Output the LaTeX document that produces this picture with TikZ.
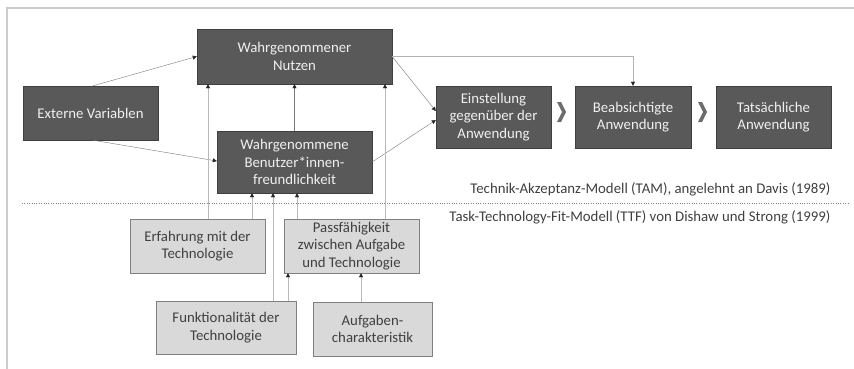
\documentclass[tikz,border=0pt]{standalone}
\usepackage{fontspec}
\setmainfont{Carlito}
\usetikzlibrary{arrows.meta}
\definecolor{boxdark}{HTML}{595959}
\definecolor{boxline}{HTML}{3F3F3F}
\definecolor{boxlight}{HTML}{D9D9D9}
\definecolor{txtdark}{HTML}{404040}
\tikzstyle{dark} = [rectangle, inner sep=0, text centered, align=center, draw=boxline, fill=boxdark, text=white!94!black]
\tikzstyle{light} = [rectangle, inner sep=0, text centered, align=center, draw=gray, fill=boxlight, text=txtdark]
\tikzstyle{arrow} = [draw=gray!95!black, -{Triangle[length=4pt,width=4pt,color=black!85]}]
\tikzstyle{arrowl} = [draw=gray!55, -{Triangle[length=4pt,width=4pt,color=black!85]}]
\tikzstyle{chev} = [fill=gray!85!black]

\begin{document}
\begin{tikzpicture}[x=1pt,y=-1pt,font=\fontsize{14.8}{17.4}\selectfont]
\useasboundingbox (0,0) rectangle (854,369);
\draw[gray!40,line width=1.2pt] (7,369)--(7,8)--(854,8);
\draw[gray,dotted] (22,203)--(850,203);

% TAM
\node[dark,minimum width=195,minimum height=55] (nutzen) at (294.5,56.5) {Wahrgenommener\\Nutzen};
\node[dark,minimum width=135,minimum height=54] (extern) at (90.5,113) {Externe Variablen};
\node[dark,minimum width=155,minimum height=62] (benutzer) at (294.5,162) {Wahrgenommene\\Benutzer*innen-\\freundlichkeit};
\node[dark,minimum width=115,minimum height=62] (einst) at (493.5,117) {Einstellung\\gegenüber der\\Anwendung};
\node[dark,minimum width=116,minimum height=62] (beabs) at (633,117) {Beabsichtigte\\Anwendung};
\node[dark,minimum width=115,minimum height=62] (tats) at (773.5,117) {Tatsächliche\\Anwendung};
\fill[chev] (557,102)--(561,102)--(566,112)--(561,122)--(557,122)--(562,112)--cycle;
\fill[chev] (698,102)--(702,102)--(707,112)--(702,122)--(698,122)--(703,112)--cycle;

% TTF
\node[light,minimum width=135,minimum height=54] (erf) at (197.5,246) {Erfahrung mit der\\Technologie};
\node[light,minimum width=135,minimum height=54] (pass) at (351.5,246) {Passfähigkeit\\zwischen Aufgabe\\und Technologie};
\node[light,minimum width=140,minimum height=53] (funk) at (226,327.5) {Funktionalität der\\Technologie};
\node[light,minimum width=119,minimum height=54] (aufg) at (372.5,329) {Aufgaben-\\charakteristik};

\node[text=txtdark,anchor=east] (tam) at (834,189) {Technik-Akzeptanz-Modell (TAM), angelehnt an Davis (1989)};
\node[text=txtdark,anchor=east] (ttf) at (834,217) {Task-Technology-Fit-Modell (TTF) von Dishaw und Strong (1999)};

\draw[arrow] ([xshift=2.5pt]extern.north) -- (nutzen.west);
\draw[arrow] ([xshift=2.5pt]extern.south) -- ([yshift=1pt]benutzer.west);
\draw[arrow] (benutzer.north) -- (nutzen.south);
\draw[arrow] (nutzen.east) -- ([yshift=6pt]einst.west);
\draw[arrow] (benutzer.east) -- ([yshift=-3pt]einst.west);
\draw[arrow,draw=gray!60] (nutzen.east) -| (beabs.north);

\coordinate (e1) at ([xshift=10.5pt]erf.north);
\coordinate (e2) at ([xshift=54.5pt]erf.north);
\coordinate (f1) at ([xshift=47pt]funk.north);
\coordinate (f2) at ([xshift=62pt]funk.north);
\coordinate (p1) at ([xshift=-54.5pt]pass.north);
\coordinate (p2) at ([xshift=33.5pt]pass.north);
\coordinate (a1) at ([xshift=-11.5pt]aufg.north);
\draw[arrowl] (e1) -- (e1 |- nutzen.south);
\draw[arrowl] (e2) -- (e2 |- benutzer.south);
\draw[arrowl] (f1) -- (f1 |- benutzer.south);
\draw[arrowl] (f2) -- (f2 |- pass.south);
\draw[arrowl] (p1) -- (p1 |- benutzer.south);
\draw[arrowl] (p2) -- (p2 |- nutzen.south);
\draw[arrowl] (a1) -- (a1 |- pass.south);
\end{tikzpicture}
\end{document}
